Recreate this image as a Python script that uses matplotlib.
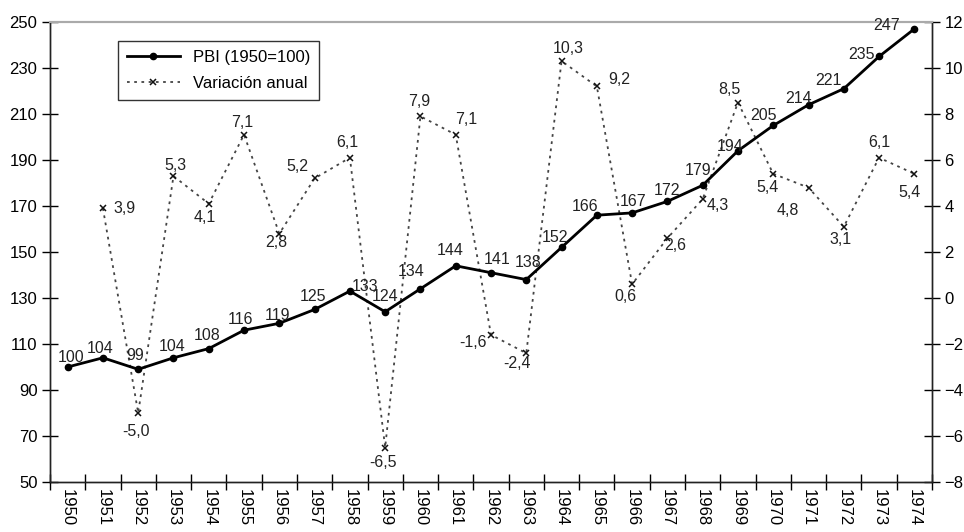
import numpy as np
import matplotlib
matplotlib.use("Agg")
import matplotlib.pyplot as plt
from matplotlib.ticker import FixedLocator

plt.rcParams['font.family'] = ['Liberation Sans', 'DejaVu Sans']

years = list(range(1950, 1975))
pbi = [100, 104, 99, 104, 108, 116, 119, 125, 133, 124, 134, 144, 141, 138,
       152, 166, 167, 172, 179, 194, 205, 214, 221, 235, 247]
var_years = list(range(1951, 1975))
variacion = [3.9, -5.0, 5.3, 4.1, 7.1, 2.8, 5.2, 6.1, -6.5, 7.9, 7.1, -1.6,
             -2.4, 10.3, 9.2, 0.6, 2.6, 4.3, 8.5, 5.4, 4.8, 3.1, 6.1, 5.4]

# label offsets in pixels (dx, dy)
pbi_off = [(3, 9), (-3, 9), (-3, 14), (-1, 11), (-2, 13), (-4, 11), (-2, 8),
           (-2, 13), (15, 5), (0, 15), (-9, 17), (-6, 15), (6, 13), (2, 17),
           (-7, 10), (-12, 9), (1, 11), (0, 11), (-5, 15), (-8, 4), (-10, 10),
           (-10, 6), (-15, 8), (-18, 2), (-28, 3)]
var_off = [(22, 0), (-2, -18), (2, 11), (-4, -14), (-2, 12), (-3, -9),
           (-17, 12), (-3, 15), (-2, -15), (-1, 15), (10, 15), (-18, -8),
           (-9, -10), (7, 13), (22, 7), (-7, -12), (8, -7), (15, -6),
           (-9, 13), (-6, -14), (-21, -23), (-3, -13), (0, 15), (-5, -19)]

fig = plt.figure(figsize=(9.64, 5.32), dpi=100)
ax = fig.add_axes([50/964, 1 - 482/532, 882/964, 460/532])
ax2 = ax.twinx()

x = np.arange(len(years))
xv = np.array([years.index(y) for y in var_years])

l2, = ax2.plot(xv, variacion, color='#444444', linestyle=(0, (1.5, 2.5)), lw=1.3,
               marker='x', ms=4, mew=1.1, mec='#111111', label='Variación anual')
l1, = ax.plot(x, pbi, color='black', lw=2, marker='o', ms=4.5, label='PBI (1950=100)')
ax.set_zorder(ax2.get_zorder() + 1)
ax.patch.set_visible(False)

ax.set_xlim(-0.5, len(years) - 0.5)
ax.set_ylim(50, 250)
ax.set_yticks(range(50, 251, 20))
ax2.set_ylim(-8, 12)
ax2.set_yticks(range(-8, 13, 2))

ax.set_xticks(x)
ax.set_xticklabels([str(y) for y in years], rotation=-90, fontsize=12)
ax.xaxis.set_minor_locator(FixedLocator(np.arange(-0.5, len(years), 1)))
ax.tick_params(axis='x', which='major', length=0, pad=5)
ax.tick_params(axis='x', which='minor', direction='inout', length=12, width=1)
ax.tick_params(axis='y', direction='inout', length=12, width=1, labelsize=12, pad=3)
ax2.tick_params(axis='y', direction='inout', length=12, width=1, labelsize=12, pad=3)

for a in (ax, ax2):
    a.spines['top'].set_color('#aaaaaa')
    a.spines['top'].set_linewidth(1.5)
    for s in ('left', 'right', 'bottom'):
        a.spines[s].set_color('#222222')
        a.spines[s].set_linewidth(1)

for i, v in enumerate(pbi):
    dx, dy = pbi_off[i]
    ax.annotate(str(v), (x[i], v), xytext=(dx, dy), textcoords='offset pixels',
                ha='center', va='center', fontsize=11.5, color='#222222')
for i, v in enumerate(variacion):
    dx, dy = var_off[i]
    ax2.annotate(('%.1f' % v).replace('.', ','), (xv[i], v), xytext=(dx, dy),
                 textcoords='offset pixels', ha='center', va='center',
                 fontsize=11.5, color='#222222')

leg = ax.legend(handles=[l1, l2], loc='upper left', bbox_to_anchor=(60/882, 1 - 11/460),
                fontsize=12, frameon=True, fancybox=False, edgecolor='black',
                handlelength=3.2, borderpad=0.5, labelspacing=0.7)
leg.get_frame().set_linewidth(1)

fig.savefig('out.png', dpi=100)
